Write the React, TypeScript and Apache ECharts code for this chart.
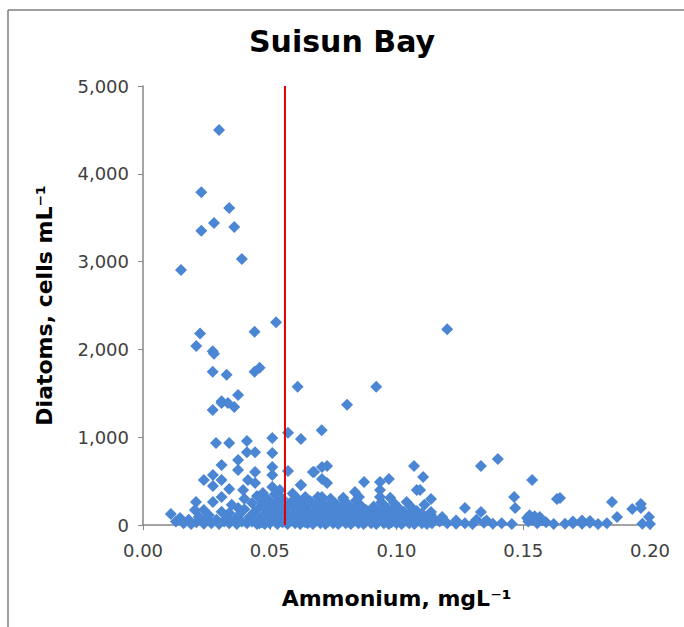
import React, { useEffect, useRef } from "react";
import * as echarts from "echarts";

const chartTitle = "Suisun Bay";
const xAxisTitle = "Ammonium, mgL⁻¹";
const yAxisTitle = "Diatoms, cells mL⁻¹";
const xTicks = [0, 0.05, 0.1, 0.15, 0.2];
const yTicks = [0, 1000, 2000, 3000, 4000, 5000];
const thresholdX = 0.056;

// high values (> 1000 cells/mL)
const highPoints: [number, number][] = [
  [0.030, 4500], [0.023, 3790], [0.034, 3610], [0.028, 3440], [0.023, 3350],
  [0.036, 3395], [0.039, 3030], [0.015, 2905], [0.0525, 2310], [0.0225, 2180],
  [0.044, 2200], [0.021, 2040], [0.0275, 1980], [0.028, 1950], [0.0275, 1745],
  [0.033, 1710], [0.044, 1745], [0.046, 1790], [0.061, 1575], [0.0375, 1480],
  [0.031, 1410], [0.0275, 1310], [0.031, 1390], [0.0335, 1390], [0.036, 1345],
  [0.092, 1575], [0.0805, 1370], [0.120, 2230], [0.0705, 1080], [0.0572, 1050],
  [0.0623, 980],
];

// mid values (300 - 1000)
const midPoints: [number, number][] = [
  [0.0288, 935], [0.034, 935], [0.041, 957], [0.051, 990], [0.041, 830],
  [0.0442, 830], [0.051, 820], [0.0375, 740], [0.031, 683], [0.0375, 626],
  [0.0442, 604], [0.051, 660], [0.051, 570], [0.0276, 570], [0.024, 513],
  [0.031, 513], [0.0276, 444], [0.034, 410], [0.0414, 513], [0.0395, 399],
  [0.0442, 478], [0.0473, 364], [0.051, 433], [0.054, 399], [0.0572, 615],
  [0.0675, 604], [0.0706, 660], [0.0726, 672], [0.0706, 524], [0.0623, 456],
  [0.0872, 490], [0.0935, 490], [0.097, 524], [0.1069, 672], [0.1105, 547],
  [0.108, 399], [0.0935, 399], [0.0836, 376], [0.1333, 672], [0.140, 752],
  [0.1535, 513], [0.1093, 399], [0.067, 604], [0.0726, 478], [0.0623, 456],
  [0.0852, 319], [0.0935, 319], [0.0706, 319], [0.079, 310], [0.0975, 310],
  [0.104, 262],
];

// low values, left cluster
const lowLeftPoints: [number, number][] = [
  [0.011, 125], [0.0146, 80], [0.0205, 171], [0.024, 171], [0.0209, 262],
  [0.0276, 262], [0.031, 319], [0.0375, 195], [0.034, 137],
  [0.013, 40], [0.016, 20], [0.018, 60], [0.019, 10], [0.021, 30], [0.022, 90],
  [0.024, 15], [0.025, 50], [0.026, 110], [0.027, 20], [0.029, 60], [0.030, 10],
  [0.031, 150], [0.032, 40], [0.033, 80], [0.034, 20], [0.035, 230], [0.036, 60],
  [0.037, 10], [0.038, 120], [0.039, 40], [0.040, 300], [0.040, 180], [0.041, 20],
  [0.042, 90], [0.043, 250], [0.043, 40], [0.044, 150], [0.044, 60], [0.045, 10],
  [0.045, 330], [0.046, 80], [0.046, 200], [0.046, 20], [0.047, 30], [0.047, 260],
  [0.048, 120], [0.048, 10], [0.048, 200], [0.049, 60], [0.049, 300], [0.050, 170],
  [0.050, 20], [0.050, 110], [0.051, 90], [0.051, 240], [0.052, 40], [0.052, 350],
  [0.052, 200], [0.053, 130], [0.053, 10], [0.053, 270], [0.054, 70], [0.054, 220],
  [0.054, 150], [0.055, 30], [0.055, 300], [0.056, 150], [0.056, 40], [0.057, 10],
  [0.057, 80], [0.057, 200], [0.058, 250], [0.058, 40], [0.058, 100], [0.059, 120],
  [0.059, 360], [0.059, 50], [0.060, 20], [0.060, 190], [0.060, 280],
];

// low values, middle cluster
const lowMidPoints: [number, number][] = [
  [0.061, 70], [0.061, 300], [0.062, 10], [0.062, 150], [0.062, 60], [0.063, 40],
  [0.063, 230], [0.064, 100], [0.064, 320], [0.064, 30], [0.065, 20], [0.065, 170],
  [0.066, 60], [0.066, 270], [0.066, 130], [0.067, 10], [0.067, 130], [0.068, 40],
  [0.068, 220], [0.069, 90], [0.069, 320], [0.070, 20], [0.070, 160], [0.071, 60],
  [0.071, 250], [0.072, 10], [0.072, 110], [0.073, 40], [0.073, 200], [0.074, 80],
  [0.074, 300], [0.075, 20], [0.075, 150], [0.076, 50], [0.076, 240], [0.077, 10],
  [0.077, 110], [0.078, 40], [0.078, 190], [0.079, 80], [0.079, 290], [0.080, 20],
  [0.080, 150], [0.081, 50], [0.081, 230], [0.082, 10], [0.082, 100], [0.083, 40],
  [0.083, 180], [0.084, 70], [0.084, 280], [0.085, 20], [0.085, 140], [0.086, 50],
  [0.086, 220], [0.087, 10], [0.087, 100], [0.088, 40], [0.088, 170], [0.089, 70],
  [0.090, 20], [0.090, 130], [0.091, 50], [0.091, 210], [0.092, 10], [0.092, 90],
  [0.093, 40], [0.093, 160], [0.094, 70], [0.094, 260], [0.095, 20], [0.095, 120],
  [0.096, 50], [0.096, 200], [0.097, 10], [0.097, 90], [0.098, 30], [0.098, 160],
  [0.099, 60], [0.099, 250], [0.100, 20], [0.100, 120], [0.101, 50], [0.101, 190],
  [0.102, 10], [0.102, 90], [0.103, 40], [0.103, 150], [0.104, 70], [0.105, 20],
  [0.105, 120], [0.106, 50], [0.106, 200], [0.107, 10], [0.107, 90], [0.108, 40],
  [0.108, 160], [0.109, 70], [0.110, 20], [0.110, 130], [0.111, 50], [0.111, 230],
  [0.112, 10], [0.112, 90], [0.113, 40], [0.114, 20], [0.115, 60],
];

// low values, right tail
const lowRightPoints: [number, number][] = [
  [0.1633, 296], [0.1136, 296], [0.1464, 319], [0.1468, 194], [0.127, 194],
  [0.1333, 148], [0.1136, 148], [0.1136, 115], [0.185, 262], [0.193, 182],
  [0.1964, 240], [0.1964, 194], [0.1996, 91], [0.187, 91], [0.1645, 307],
  [0.120, 20], [0.1235, 15], [0.127, 20], [0.130, 10], [0.1345, 25], [0.138, 15],
  [0.1415, 20], [0.1455, 10], [0.152, 40], [0.1555, 20], [0.159, 30], [0.162, 10],
  [0.1665, 15], [0.1696, 20], [0.1732, 15], [0.1763, 25], [0.1795, 10], [0.183, 20],
  [0.197, 15], [0.200, 10], [0.1235, 50], [0.1315, 60], [0.1355, 50], [0.1515, 80],
  [0.1535, 60], [0.1575, 50], [0.1696, 40], [0.1732, 50], [0.1763, 45],
  [0.1525, 110], [0.1545, 100], [0.1565, 90], [0.117, 40], [0.118, 90],
];

const allPoints = [
  ...highPoints, ...midPoints, ...lowLeftPoints, ...lowMidPoints, ...lowRightPoints,
];

export default function App() {
  const ref = useRef<HTMLDivElement>(null);
  useEffect(() => {
    if (!ref.current) return;
    const chart = echarts.init(ref.current, null, { renderer: "svg" });
    const labelFont = "DejaVu Sans, Verdana, sans-serif";
    chart.setOption({
      animation: false,
      backgroundColor: "#ffffff",
      title: {
        text: chartTitle,
        left: "center",
        top: 21,
        textStyle: {
          fontFamily: labelFont,
          fontWeight: "bold",
          fontSize: 30,
          color: "#000",
        },
      },
      graphic: [
        { type: "line", shape: { x1: 8, y1: 10, x2: 684, y2: 10 }, style: { stroke: "#7f7f7f", lineWidth: 1.5 } },
        { type: "line", shape: { x1: 8, y1: 10, x2: 8, y2: 627 }, style: { stroke: "#7f7f7f", lineWidth: 1.5 } },
      ],
      grid: { left: 143, right: 34, top: 86, bottom: 102 },
      xAxis: {
        type: "value",
        min: xTicks[0],
        max: xTicks[xTicks.length - 1],
        interval: 0.05,
        name: xAxisTitle,
        nameLocation: "middle",
        nameGap: 62,
        nameTextStyle: { fontFamily: labelFont, fontWeight: "bold", fontSize: 22, color: "#000" },
        axisLine: { lineStyle: { color: "#868686", width: 1.5 } },
        axisTick: { show: true, length: 5, lineStyle: { color: "#868686" } },
        splitLine: { show: false },
        axisLabel: {
          fontFamily: labelFont,
          fontSize: 18,
          color: "#404040",
          margin: 16,
          formatter: (v: number) => v.toFixed(2),
        },
      },
      yAxis: {
        type: "value",
        min: yTicks[0],
        max: yTicks[yTicks.length - 1],
        interval: 1000,
        name: yAxisTitle,
        nameLocation: "middle",
        nameGap: 88,
        nameTextStyle: { fontFamily: labelFont, fontWeight: "bold", fontSize: 22, color: "#000" },
        axisLine: { show: true, lineStyle: { color: "#868686", width: 1.5 } },
        axisTick: { show: true, length: 5, lineStyle: { color: "#868686" } },
        splitLine: { show: false },
        axisLabel: {
          fontFamily: labelFont,
          fontSize: 18,
          color: "#404040",
          margin: 14,
          formatter: (v: number) => v.toLocaleString("en-US"),
        },
      },
      series: [
        {
          type: "scatter",
          data: allPoints,
          symbol: "diamond",
          symbolSize: 12,
          itemStyle: { color: "#4a86d4", opacity: 1 },
        },
        {
          type: "line",
          data: [[thresholdX, 0], [thresholdX, 5000]],
          symbol: "none",
          lineStyle: { color: "#e00000", width: 2 },
          z: 5,
        },
      ],
    });
    return () => chart.dispose();
  }, []);
  return (
    <div
      ref={ref}
      style={{ position: "absolute", left: 0, top: 0, width: 684, height: 627 }}
    />
  );
}
